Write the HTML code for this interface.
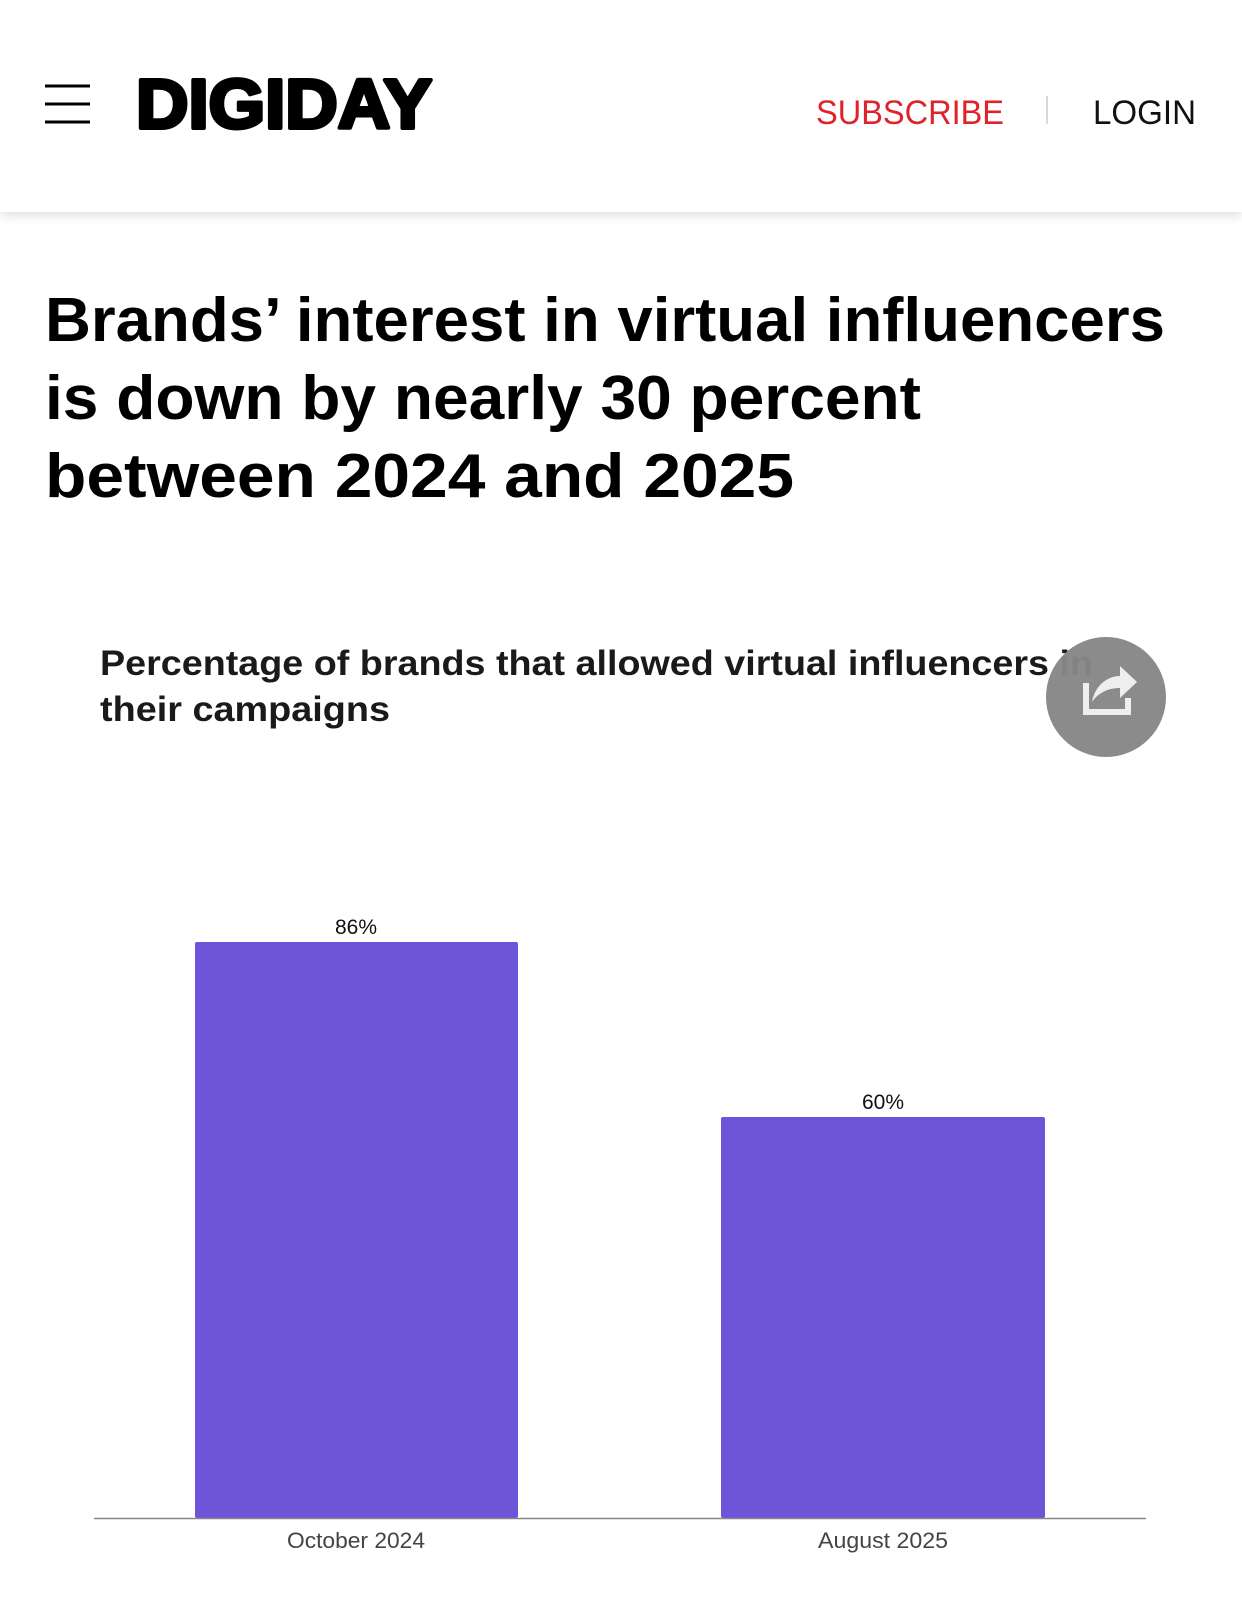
<!DOCTYPE html>
<html><head><meta charset="utf-8"><style>
html,body{margin:0;padding:0;background:#fff;}
body{width:1242px;height:1609px;position:relative;overflow:hidden;font-family:"Liberation Sans",sans-serif;}
.hdr{position:absolute;left:0;top:0;width:1242px;height:212px;background:#fff;box-shadow:0 4px 10px rgba(0,0,0,0.12);}
svg{position:absolute;left:0;top:0;}
</style></head><body>
<div class="hdr"></div>
<svg width="1242" height="1609" viewBox="0 0 1242 1609" xmlns="http://www.w3.org/2000/svg" font-family="Liberation Sans, sans-serif">
  <g stroke="#000" stroke-width="3">
    <line x1="45" y1="86" x2="90" y2="86"/>
    <line x1="45" y1="104" x2="90" y2="104"/>
    <line x1="45" y1="122" x2="90" y2="122"/>
  </g>
  <text x="136" y="128" font-size="70" font-weight="bold" stroke="#000" stroke-width="4" stroke-linejoin="round" textLength="296" lengthAdjust="spacingAndGlyphs">DIGIDAY</text>
  <text x="816" y="124" font-size="34" fill="#e0222a" textLength="188" lengthAdjust="spacingAndGlyphs">SUBSCRIBE</text>
  <line x1="1047" y1="96" x2="1047" y2="124" stroke="#ccc" stroke-width="1.5"/>
  <text x="1093" y="124" font-size="34" fill="#111" textLength="103" lengthAdjust="spacingAndGlyphs">LOGIN</text>

  <g font-size="62" font-weight="bold" fill="#000">
    <text x="45" y="341" textLength="1120" lengthAdjust="spacingAndGlyphs">Brands’ interest in virtual influencers</text>
    <text x="45" y="419" textLength="876" lengthAdjust="spacingAndGlyphs">is down by nearly 30 percent</text>
    <text x="45" y="497" textLength="749" lengthAdjust="spacingAndGlyphs">between 2024 and 2025</text>
  </g>
  <g font-size="35" font-weight="bold" fill="#1a1a1a">
    <text x="100" y="675" textLength="993" lengthAdjust="spacingAndGlyphs">Percentage of brands that allowed virtual influencers in</text>
    <text x="100" y="721" textLength="290" lengthAdjust="spacingAndGlyphs">their campaigns</text>
  </g>

  <circle cx="1106" cy="697" r="60" fill="#878787" fill-opacity="0.97"/>
  <g fill="none" stroke="#eee" stroke-width="6">
    <path d="M1086 683 v29 h42 v-14"/>
  </g>
  <path d="M1092 702 C1095 685 1108 676 1120 676 v-10 l17 16 -17 16 v-10 C1108 688 1098 693 1092 702 Z" fill="#eee"/>

  <rect x="195" y="942" width="323" height="576" fill="#6e54d8" rx="2"/>
  <rect x="721" y="1117" width="324" height="401" fill="#6e54d8" rx="2"/>
  <line x1="94" y1="1518.5" x2="1146" y2="1518.5" stroke="#888" stroke-width="1.5"/>
  <g font-size="21" fill="#111" text-anchor="middle">
    <text x="356" y="934">86%</text>
    <text x="883" y="1109">60%</text>
  </g>
  <g font-size="22" fill="#444" text-anchor="middle">
    <text x="356" y="1548" textLength="138" lengthAdjust="spacingAndGlyphs">October 2024</text>
    <text x="883" y="1548" textLength="130" lengthAdjust="spacingAndGlyphs">August 2025</text>
  </g>
</svg>
</body></html>
